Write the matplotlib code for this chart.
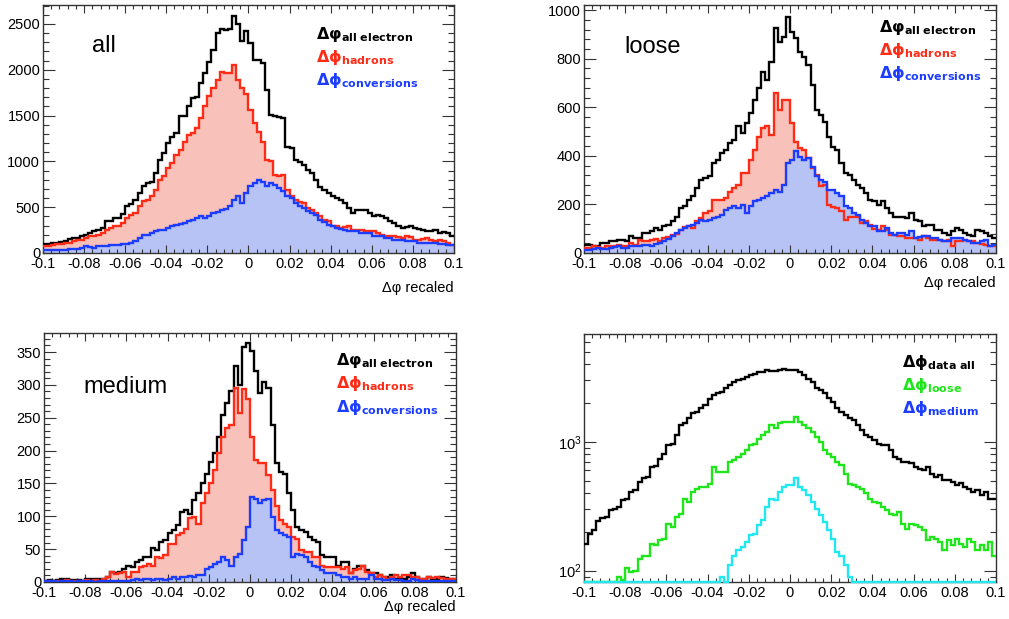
import numpy as np
import matplotlib.pyplot as plt
from matplotlib.ticker import MultipleLocator, FuncFormatter, LogLocator, NullFormatter

# 100 bins from -0.1 to 0.1
edges = np.linspace(-0.1, 0.1, 101)

# ---- panel "all"
all_electron = [
    95, 100, 108, 110, 125, 135, 150, 160, 165, 180,
    200, 215, 240, 255, 270, 345, 345, 380, 380, 430,
    510, 530, 580, 650, 730, 765, 780, 870, 1020, 1090,
    1200, 1270, 1310, 1490, 1500, 1600, 1690, 1700, 1855, 1960,
    2090, 2220, 2400, 2440, 2430, 2450, 2590, 2500, 2310, 2420,
    2290, 2110, 2110, 2070, 1780, 1510, 1490, 1480, 1470, 1160,
    1150, 1020, 990, 960, 910, 870, 800, 720, 690, 655,
    620, 600, 580, 545, 490, 435, 470, 470, 470, 435,
    400, 420, 400, 380, 345, 330, 290, 270, 280, 290,
    270, 260, 255, 235, 240, 255, 220, 225, 220, 180]
all_hadrons = [
    73, 80, 90, 95, 100, 105, 110, 130, 140, 145,
    165, 180, 180, 200, 220, 250, 270, 290, 300, 325,
    380, 420, 435, 510, 565, 580, 620, 690, 800, 835,
    925, 980, 1070, 1125, 1215, 1290, 1310, 1360, 1470, 1600,
    1710, 1800, 1890, 1980, 1970, 1960, 2050, 1890, 1800, 1740,
    1560, 1420, 1325, 1215, 1020, 1000, 855, 835, 855, 690,
    620, 580, 560, 545, 490, 470, 435, 400, 365, 345,
    300, 290, 270, 280, 290, 255, 255, 255, 240, 235,
    235, 220, 200, 185, 180, 180, 170, 165, 180, 170,
    145, 145, 150, 165, 145, 130, 145, 130, 110, 90]
all_conversions = [
    30, 30, 32, 30, 36, 36, 40, 42, 48, 55,
    73, 60, 55, 73, 75, 80, 85, 90, 90, 95,
    100, 105, 127, 165, 200, 200, 220, 240, 255, 255,
    270, 290, 310, 320, 330, 345, 365, 380, 400, 380,
    400, 435, 450, 465, 480, 515, 580, 620, 545, 655,
    730, 765, 800, 780, 730, 765, 745, 710, 675, 620,
    600, 545, 510, 490, 455, 435, 420, 365, 340, 310,
    290, 270, 260, 250, 235, 235, 235, 220, 220, 220,
    180, 180, 180, 165, 165, 145, 145, 145, 127, 127,
    127, 110, 110, 110, 110, 108, 100, 95, 90, 90]

# ---- panel "loose"
loose_electron = [
    34, 34, 27, 30, 41, 41, 48, 50, 55, 55,
    48, 68, 62, 62, 82, 82, 89, 103, 96, 110,
    116, 130, 150, 185, 192, 219, 233, 267, 301, 308,
    315, 370, 384, 411, 425, 452, 466, 521, 493, 534,
    575, 630, 678, 747, 712, 788, 925, 870, 890, 973,
    911, 884, 829, 808, 774, 692, 589, 569, 541, 479,
    438, 425, 370, 329, 322, 301, 281, 267, 247, 219,
    212, 199, 212, 185, 164, 150, 150, 150, 144, 164,
    137, 130, 110, 116, 116, 96, 96, 82, 75, 90,
    103, 96, 82, 75, 68, 96, 89, 82, 70, 62]
loose_hadrons = [
    20, 22, 27, 24, 20, 27, 27, 30, 34, 30,
    27, 41, 34, 55, 48, 50, 55, 58, 48, 60,
    66, 75, 80, 96, 105, 110, 103, 130, 144, 164,
    171, 219, 219, 219, 226, 253, 267, 281, 329, 329,
    384, 425, 479, 514, 521, 486, 658, 589, 630, 630,
    534, 459, 432, 425, 390, 349, 322, 274, 281, 199,
    190, 185, 171, 137, 150, 150, 150, 123, 130, 116,
    100, 96, 110, 96, 75, 75, 68, 68, 62, 62,
    62, 55, 68, 60, 55, 55, 55, 48, 55, 27,
    48, 50, 55, 50, 48, 41, 38, 34, 27, 27]
loose_conversions = [
    14, 14, 18, 20, 16, 18, 20, 24, 27, 20,
    20, 27, 27, 30, 34, 32, 30, 38, 41, 48,
    58, 68, 82, 96, 103, 110, 115, 123, 137, 130,
    137, 144, 150, 158, 178, 185, 192, 185, 199, 164,
    192, 212, 219, 226, 233, 247, 260, 253, 281, 370,
    384, 418, 397, 384, 390, 356, 315, 301, 294, 260,
    260, 247, 233, 192, 185, 164, 158, 137, 123, 110,
    110, 89, 89, 103, 82, 75, 82, 82, 75, 89,
    62, 65, 68, 68, 62, 62, 55, 50, 48, 62,
    62, 62, 55, 48, 41, 41, 48, 55, 30, 34]

# ---- panel "medium"
medium_electron = [
    2, 3, 2, 3, 4, 5, 3, 3, 3, 2,
    4, 5, 4, 5, 5, 8, 15, 13, 15, 20,
    25, 23, 30, 33, 38, 38, 51, 48, 61, 64,
    74, 79, 87, 107, 109, 104, 125, 135, 150, 165,
    183, 196, 221, 254, 272, 290, 328, 300, 357, 364,
    352, 321, 288, 305, 295, 239, 181, 168, 165, 135,
    109, 84, 79, 76, 69, 64, 61, 41, 38, 38,
    38, 25, 30, 30, 13, 20, 25, 25, 18, 13,
    13, 10, 8, 8, 10, 5, 4, 5, 8, 13,
    8, 5, 5, 8, 5, 5, 8, 6, 5, 4]
medium_hadrons = [
    2, 2, 2, 2, 2, 3, 2, 2, 2, 2,
    3, 2, 3, 2, 4, 8, 15, 12, 13, 15,
    8, 15, 15, 23, 25, 28, 25, 38, 36, 41,
    58, 58, 71, 74, 81, 97, 99, 89, 120, 135,
    150, 170, 196, 221, 234, 239, 295, 257, 293, 278,
    221, 186, 181, 181, 163, 140, 115, 94, 89, 84,
    69, 66, 48, 46, 46, 38, 38, 25, 23, 23,
    23, 23, 20, 23, 13, 18, 20, 24, 15, 13,
    8, 10, 8, 5, 8, 10, 8, 10, 10, 8,
    8, 5, 5, 8, 6, 7, 6, 5, 4, 4]
medium_conversions = [
    1, 1, 1, 0, 1, 1, 1, 0, 1, 1,
    1, 1, 0, 1, 1, 1, 1, 1, 1, 2,
    2, 3, 4, 3, 4, 5, 3, 4, 5, 3,
    5, 8, 5, 8, 8, 9, 8, 10, 10, 20,
    23, 28, 30, 38, 33, 25, 38, 43, 64, 84,
    130, 127, 120, 125, 126, 99, 79, 74, 71, 69,
    38, 43, 41, 38, 30, 25, 23, 18, 14, 13,
    13, 10, 8, 8, 4, 8, 5, 5, 4, 10,
    5, 4, 3, 3, 5, 3, 3, 2, 2, 4,
    3, 2, 2, 2, 2, 2, 2, 2, 2, 2]

# ---- panel data (log scale)
data_all = [
    162, 194, 206, 243, 254, 261, 294, 303, 312, 352,
    362, 408, 420, 489, 519, 534, 640, 650, 741, 811,
    942, 970, 1127, 1349, 1390, 1518, 1660, 1710, 1815, 1925,
    2133, 2306, 2375, 2445, 2600, 2760, 2930, 3015, 3100, 3190,
    3285, 3380, 3480, 3480, 3580, 3520, 3520, 3620, 3690, 3580,
    3580, 3580, 3480, 3285, 3100, 2930, 2600, 2530, 2375, 2170,
    2050, 1815, 1710, 1610, 1518, 1475, 1349, 1230, 1127, 1095,
    1030, 970, 942, 942, 860, 765, 741, 700, 700, 680,
    640, 620, 603, 640, 566, 534, 550, 502, 502, 489,
    460, 480, 447, 433, 408, 420, 385, 408, 362, 362]
data_loose = [
    60, 65, 70, 72, 75, 70, 78, 76, 89, 85,
    104, 98, 100, 124, 131, 131, 162, 157, 172, 177,
    232, 218, 261, 277, 362, 342, 408, 433, 447, 447,
    473, 640, 584, 584, 584, 700, 720, 765, 811, 860,
    942, 970, 1060, 1127, 1195, 1349, 1270, 1390, 1432, 1432,
    1432, 1547, 1432, 1349, 1270, 1195, 1095, 1000, 860, 811,
    765, 700, 660, 566, 473, 460, 447, 433, 397, 362,
    342, 332, 312, 294, 277, 269, 285, 232, 212, 232,
    225, 218, 206, 172, 182, 177, 167, 144, 172, 157,
    177, 162, 153, 177, 167, 144, 157, 144, 167, 131]
data_medium = [
    8, 10, 9, 12, 11, 14, 13, 15, 18, 17,
    20, 22, 21, 25, 27, 28, 30, 34, 33, 38,
    40, 44, 46, 50, 52, 55, 58, 62, 65, 68,
    70, 74, 78, 89, 78, 110, 131, 144, 153, 167,
    188, 194, 225, 245, 312, 362, 356, 408, 447, 460,
    460, 519, 447, 420, 385, 342, 303, 269, 239, 206,
    177, 140, 131, 110, 89, 75, 70, 66, 60, 56,
    52, 48, 45, 40, 38, 35, 32, 30, 28, 26,
    24, 22, 20, 19, 18, 16, 15, 14, 13, 12,
    11, 10, 10, 9, 8, 8, 7, 7, 6, 6]

RED = '#fe2b17'
BLUE = '#1c3cff'
PINK = '#f8c2bb'
LIGHTBLUE = '#b7c3f4'
GREEN = '#1ee61a'
CYAN = '#20e8f0'

plt.rcParams['font.family'] = ['Liberation Sans', 'DejaVu Sans']
plt.rcParams['mathtext.fontset'] = 'dejavusans'


def xfmt(v, _):
    if abs(v) < 1e-9:
        return '0'
    return '{:g}'.format(round(v, 3))


def style_axes(ax, ymajor=None, yminor=None):
    ax.set_xlim(-0.1, 0.1)
    ax.xaxis.set_major_locator(MultipleLocator(0.02))
    ax.xaxis.set_minor_locator(MultipleLocator(0.004))
    ax.xaxis.set_major_formatter(FuncFormatter(xfmt))
    if ymajor is not None:
        ax.yaxis.set_major_locator(MultipleLocator(ymajor))
        ax.yaxis.set_minor_locator(MultipleLocator(yminor))
    ax.tick_params(which='both', direction='in', top=True, right=True,
                   labelsize=10.5, width=0.8, color='#333333')
    ax.tick_params(axis='x', which='major', length=5.5, pad=3)
    ax.tick_params(axis='x', which='minor', length=2.8)
    ax.tick_params(axis='y', which='major', length=8.5, pad=2)
    ax.tick_params(axis='y', which='minor', length=4.3)
    for s in ax.spines.values():
        s.set_linewidth(1.0)
        s.set_color('#333333')


def three_hists(ax, black, red, blue):
    ax.stairs(red, edges, fill=True, color=PINK, lw=0, zorder=1)
    ax.stairs(blue, edges, fill=True, color=LIGHTBLUE, lw=0, zorder=1.5)
    ax.stairs(black, edges, baseline=None, color='black', lw=1.7, zorder=3)
    ax.stairs(red, edges, baseline=None, color=RED, lw=1.7, zorder=3)
    ax.stairs(blue, edges, baseline=None, color=BLUE, lw=1.7, zorder=3)


def legend(ax, x, ys, labels, colors, fs=11.5):
    for y, lab, c in zip(ys, labels, colors):
        ax.text(x, y, lab, color=c, fontsize=fs, transform=ax.transAxes,
                ha='left', va='baseline')


fig = plt.figure(figsize=(10.09, 6.19), dpi=100)
ax1 = fig.add_axes([0.0426, 0.5913, 0.4073, 0.4006])
ax2 = fig.add_axes([0.5788, 0.5913, 0.4083, 0.4006])
ax3 = fig.add_axes([0.0436, 0.0598, 0.4083, 0.4023])
ax4 = fig.add_axes([0.5788, 0.0598, 0.4083, 0.4006])

lab_el = [r'$\mathbf{\Delta\varphi_{all\ electron}}$',
          r'$\mathbf{\Delta\phi_{hadrons}}$',
          r'$\mathbf{\Delta\phi_{conversions}}$']

# all
three_hists(ax1, all_electron, all_hadrons, all_conversions)
ax1.set_ylim(0, 2707)
style_axes(ax1, 500, 100)
ax1.text(0.12, 0.81, 'all', transform=ax1.transAxes, fontsize=17, va='baseline')
legend(ax1, 0.664, [0.863, 0.769, 0.676], lab_el, ['black', RED, BLUE])
ax1.text(1.0, -0.141, 'Δφ recaled', transform=ax1.transAxes, ha='right',
         va='center', fontsize=10.5)

# loose
three_hists(ax2, loose_electron, loose_hadrons, loose_conversions)
ax2.set_ylim(0, 1021)
style_axes(ax2, 200, 40)
ax2.text(0.097, 0.806, 'loose', transform=ax2.transAxes, fontsize=17, va='baseline')
legend(ax2, 0.716, [0.891, 0.798, 0.706], lab_el, ['black', RED, BLUE])
ax2.text(1.0, -0.121, 'Δφ recaled', transform=ax2.transAxes, ha='right',
         va='center', fontsize=10.5)

# medium
three_hists(ax3, medium_electron, medium_hadrons, medium_conversions)
ax3.set_ylim(0, 379)
style_axes(ax3, 50, 10)
ax3.text(0.095, 0.759, 'medium', transform=ax3.transAxes, fontsize=17, va='baseline')
legend(ax3, 0.709, [0.871, 0.779, 0.683], lab_el, ['black', RED, BLUE])
ax3.text(1.0, -0.10, 'Δφ recaled', transform=ax3.transAxes, ha='right',
         va='center', fontsize=10.5)

# data, log scale
ymin4, ymax4 = 81.6, 6870
ax4.set_yscale('log')
ax4.stairs(np.clip(data_all, ymin4, None), edges, baseline=None, color='black', lw=1.7, zorder=3)
ax4.stairs(np.clip(data_loose, ymin4, None), edges, baseline=None, color=GREEN, lw=1.7, zorder=3)
ax4.stairs(np.clip(data_medium, ymin4, None), edges, baseline=None, color=CYAN, lw=1.7,
           zorder=4, clip_on=False)
ax4.set_ylim(ymin4, ymax4)
style_axes(ax4)
ax4.yaxis.set_major_locator(LogLocator(base=10))
ax4.yaxis.set_minor_locator(LogLocator(base=10, subs=np.arange(2, 10)))
ax4.yaxis.set_minor_formatter(NullFormatter())
legend(ax4, 0.772, [0.867, 0.774, 0.681],
       [r'$\mathbf{\Delta\phi_{data\ all}}$', r'$\mathbf{\Delta\phi_{loose}}$',
        r'$\mathbf{\Delta\phi_{medium}}$'],
       ['black', GREEN, BLUE])

fig.savefig('out.png', dpi=100)
